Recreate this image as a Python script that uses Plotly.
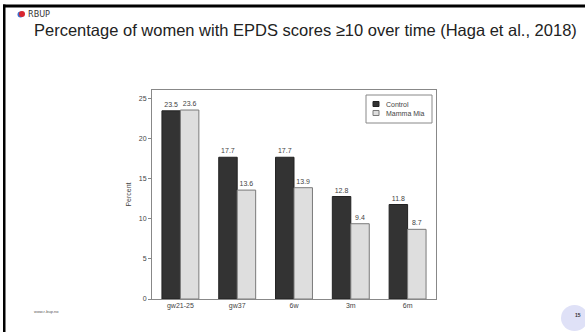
import plotly.graph_objects as go

categories = ["gw21-25", "gw37", "6w", "3m", "6m"]
control = [23.5, 17.7, 17.7, 12.8, 11.8]
mamma_mia = [23.6, 13.6, 13.9, 9.4, 8.7]
series_names = ["Control", "Mamma Mia"]
y_ticks = [0, 5, 10, 15, 20, 25]

W, H = 585, 332
L, R, T, B = 152, 436, 90, 299  # plot area in pixels

CTRL_FILL, CTRL_LINE = "#333333", "#222222"
MM_FILL, MM_LINE = "#dedede", "#7a7a7a"


def px(x):
    return x / W


def py(y):
    return 1 - y / H


fig = go.Figure()
fig.add_trace(go.Bar(
    name=series_names[0], x=categories, y=control,
    marker=dict(color=CTRL_FILL, line=dict(color=CTRL_LINE, width=1)),
    text=[f"{v:.1f}" for v in control], textposition="outside",
    textfont=dict(size=7, color="#444444", family="Liberation Sans"),
    cliponaxis=False,
))
fig.add_trace(go.Bar(
    name=series_names[1], x=categories, y=mamma_mia,
    marker=dict(color=MM_FILL, line=dict(color=MM_LINE, width=1)),
    text=[f"{v:.1f}" for v in mamma_mia], textposition="outside",
    textfont=dict(size=7, color="#444444", family="Liberation Sans"),
    cliponaxis=False,
))

fig.update_layout(
    width=W, height=H,
    margin=dict(l=0, r=0, t=0, b=0, pad=0, autoexpand=False),
    paper_bgcolor="white", plot_bgcolor="white",
    barmode="group", bargap=0.35, bargroupgap=0,
    font=dict(family="Liberation Sans", color="#444444"),
    showlegend=False,
    xaxis=dict(
        domain=[px(L), px(R)],
        showline=True, linecolor="#888888", linewidth=1, mirror=True,
        ticks="", tickfont=dict(size=7, color="#444444"),
        range=[-0.5, 4.5], showgrid=False, automargin=False,
    ),
    yaxis=dict(
        domain=[py(B), py(T)],
        range=[0, 26.1], tickvals=y_ticks,
        showline=True, linecolor="#888888", linewidth=1, mirror=True,
        ticks="outside", ticklen=3, tickcolor="#888888",
        tickfont=dict(size=7, color="#444444"), showgrid=False, zeroline=False,
        automargin=False,
        title=dict(text="Percent", font=dict(size=7, color="#444444"), standoff=6),
    ),
)

shapes = [
    # slide frame: top and left black rules
    dict(type="rect", x0=px(3), x1=px(585), y0=py(7.5), y1=py(4.5),
         fillcolor="black", line=dict(width=0)),
    dict(type="rect", x0=px(3), x1=px(5.5), y0=py(332), y1=py(4.5),
         fillcolor="black", line=dict(width=0)),
    # page number circle
    dict(type="circle", x0=px(561), x1=px(588), y0=py(331), y1=py(305),
         fillcolor="#dfe1f7", line=dict(width=0)),
    # RBUP logo
    dict(type="circle", x0=px(17.5), x1=px(23.5), y0=py(17.5), y1=py(11.5),
         fillcolor="#3a6fd0", line=dict(width=0)),
    dict(type="circle", x0=px(19), x1=px(25), y0=py(17), y1=py(11),
         fillcolor="#d9262e", line=dict(width=0)),
    # legend box
    dict(type="rect", x0=px(366), x1=px(432), y0=py(123), y1=py(95),
         fillcolor="white", line=dict(color="#888888", width=1)),
    dict(type="rect", x0=px(373), x1=px(379), y0=py(106.5), y1=py(101.5),
         fillcolor=CTRL_FILL, line=dict(color=CTRL_LINE, width=1)),
    dict(type="rect", x0=px(373), x1=px(379), y0=py(115.5), y1=py(110.5),
         fillcolor=MM_FILL, line=dict(color=MM_LINE, width=1)),
]
for s in shapes:
    s.update(xref="paper", yref="paper")
fig.update_layout(shapes=shapes)

annotations = [
    dict(text="RBUP", x=px(25.5), y=py(14), xanchor="left", yanchor="middle",
         font=dict(size=9, color="#333333", family="DejaVu Sans Condensed")),
    dict(text="Percentage of women with EPDS scores \u226510 over time (Haga et al., 2018)",
         x=px(32), y=py(30), xanchor="left", yanchor="middle",
         font=dict(size=16.5, color="#222222", family="Liberation Sans")),
    dict(text="www.r-bup.no", x=px(32), y=py(311), xanchor="left", yanchor="middle",
         font=dict(size=4, color="#555555", family="Liberation Sans")),
    dict(text="<b>15</b>", x=px(578), y=py(315), xanchor="center", yanchor="middle",
         font=dict(size=5, color="#333333", family="Liberation Sans")),
    dict(text=series_names[0], x=px(384), y=py(104), xanchor="left", yanchor="middle",
         font=dict(size=7, color="#444444", family="Liberation Sans")),
    dict(text=series_names[1], x=px(384), y=py(113), xanchor="left", yanchor="middle",
         font=dict(size=7, color="#444444", family="Liberation Sans")),
]
for a in annotations:
    a.update(xref="paper", yref="paper", showarrow=False)
fig.update_layout(annotations=annotations)

fig.write_html("out.html", config={"displayModeBar": False},
               post_script="document.body.style.margin='0';")
